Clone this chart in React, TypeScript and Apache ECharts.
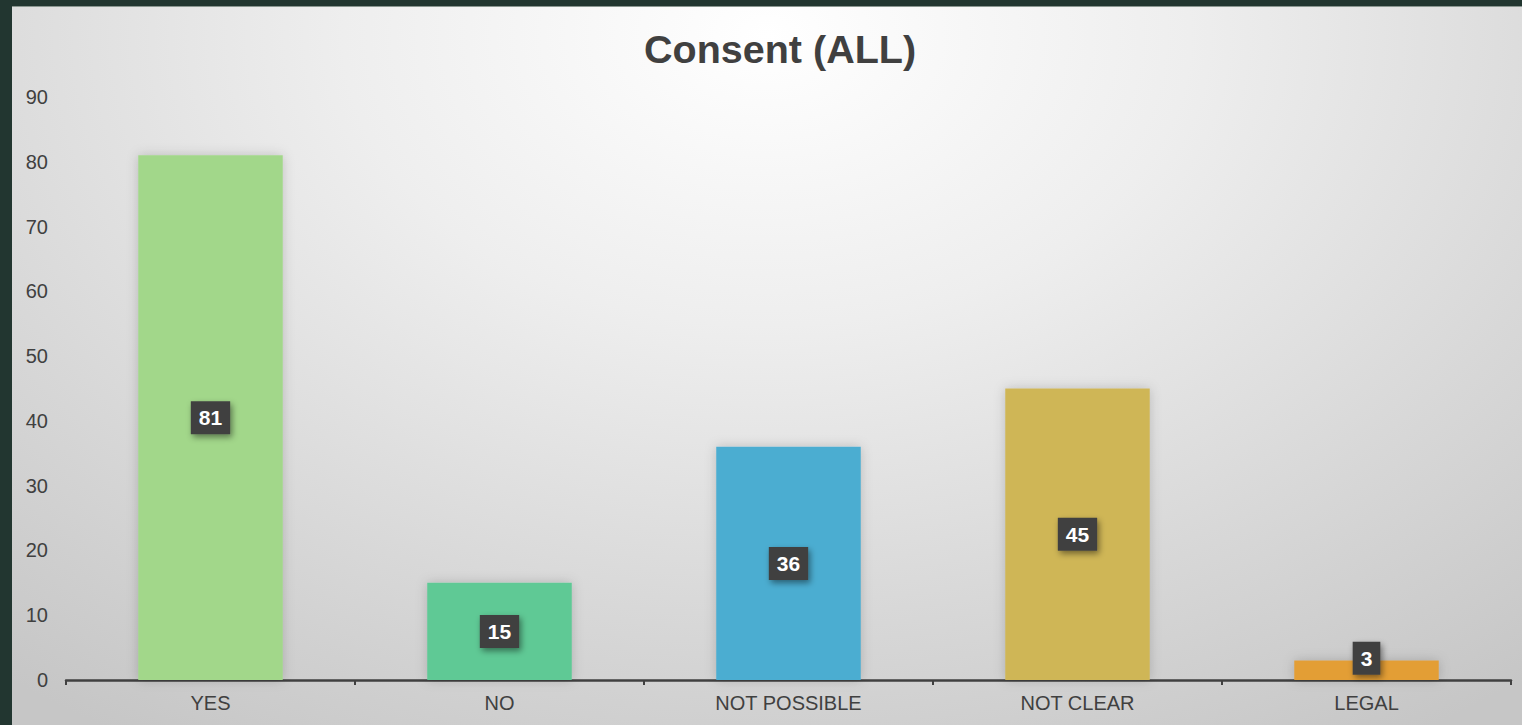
import React, { useEffect, useRef } from "react";
import * as echarts from "echarts";

const categories = ["YES", "NO", "NOT POSSIBLE", "NOT CLEAR", "LEGAL"];
const values = [81, 15, 36, 45, 3];
const barColors = ["#a2d78a", "#5ec995", "#4badd1", "#cfb657", "#e39e36"];
const yTicks = { min: 0, max: 90, interval: 10 };

export default function App() {
  const ref = useRef<HTMLDivElement>(null);
  useEffect(() => {
    if (!ref.current) return;
    const chart = echarts.init(ref.current, undefined, { renderer: "svg" });
    chart.setOption({
      animation: false,
      backgroundColor: "transparent",
      title: {
        text: "Consent (ALL)",
        left: 627,
        top: 17,
        textStyle: {
          fontFamily: "Liberation Sans, Arial, sans-serif",
          fontSize: 39.5,
          fontWeight: "bold",
          color: "#404040",
        },
      },
      grid: { left: 54, right: 11, top: 90, bottom: 45, containLabel: false },
      xAxis: {
        type: "category",
        data: categories,
        axisLine: { lineStyle: { color: "#404040", width: 2.5 } },
        axisTick: { show: true, length: 5, lineStyle: { color: "#404040", width: 2 } },
        axisLabel: {
          color: "#404040",
          fontSize: 20,
          fontFamily: "Liberation Sans, Arial, sans-serif",
          margin: 13,
        },
      },
      yAxis: {
        type: "value",
        min: yTicks.min,
        max: yTicks.max,
        interval: yTicks.interval,
        splitLine: { show: false },
        axisLine: { show: false },
        axisTick: { show: false },
        axisLabel: {
          color: "#404040",
          fontSize: 20,
          fontFamily: "Liberation Sans, Arial, sans-serif",
          margin: 18,
        },
      },
      series: [
        {
          type: "bar",
          barWidth: "50%",
          data: values.map((v, i) => ({
            value: v,
            itemStyle: { color: barColors[i] },
            label: v < 5 ? { offset: [0, -12] } : undefined,
          })),
          itemStyle: {
            shadowBlur: 12,
            shadowColor: "rgba(0,0,0,0.18)",
          },
          label: {
            show: true,
            position: "inside",
            color: "#ffffff",
            fontWeight: "bold",
            fontSize: 21,
            fontFamily: "Liberation Sans, Arial, sans-serif",
            backgroundColor: "#404040",
            padding: [7, 8, 5, 8],
            shadowBlur: 6,
            shadowOffsetX: 2,
            shadowOffsetY: 3,
            shadowColor: "rgba(0,0,0,0.45)",
          },
        },
      ],
    });
    return () => chart.dispose();
  }, []);

  return (
    <div
      style={{
        position: "fixed",
        left: 0,
        top: 0,
        width: 1522,
        height: 725,
        background: "#223630",
        overflow: "hidden",
      }}
    >
      <div
        style={{
          position: "absolute",
          left: 12,
          top: 6,
          width: 1510,
          height: 719,
          borderTop: "1px solid #8a9690",
          background:
            "radial-gradient(ellipse 80% 115% at 50% 4%, #ffffff 0%, #eeeeee 35%, #d8d8d8 70%, #c6c6c6 100%)",
        }}
      >
        <div ref={ref} style={{ width: 1510, height: 718 }} />
      </div>
    </div>
  );
}
